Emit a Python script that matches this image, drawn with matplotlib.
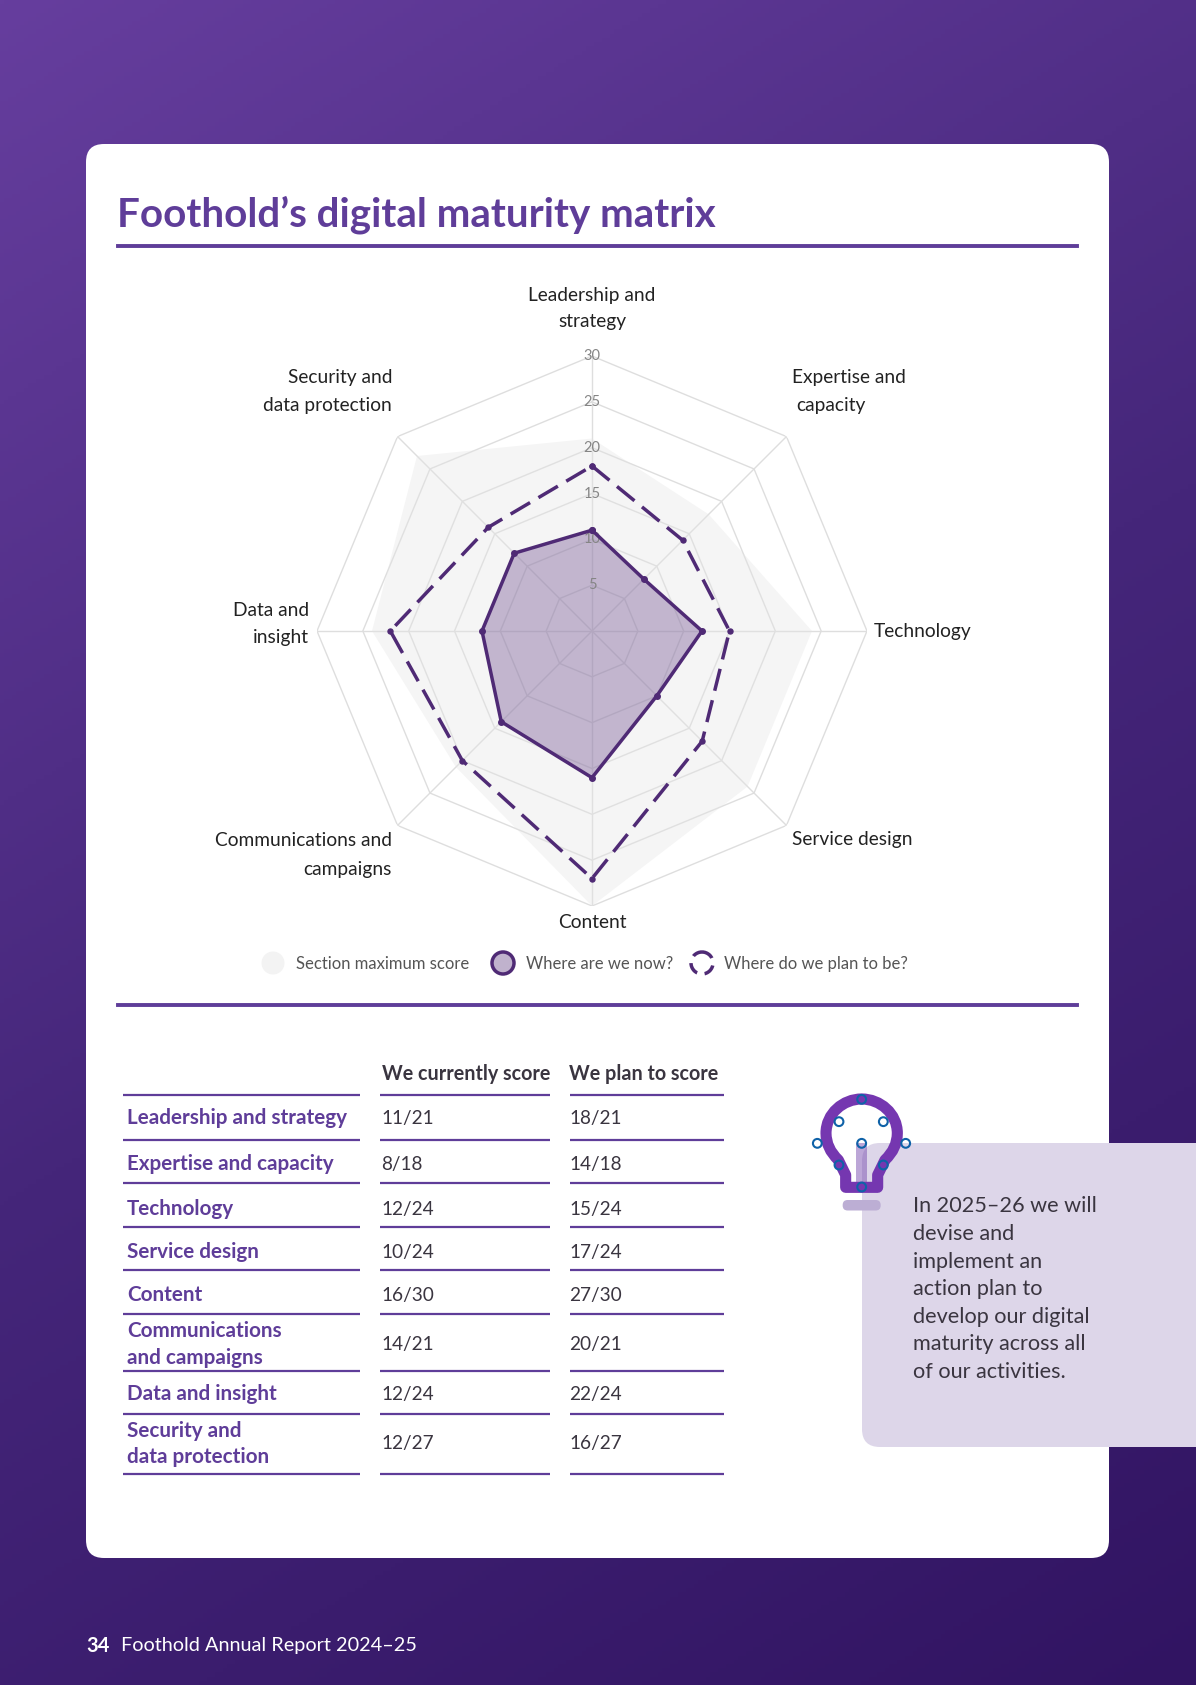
from matplotlib import pyplot as plt
from matplotlib.patches import Circle, FancyBboxPatch, PathPatch, Rectangle
from matplotlib.path import Path
import numpy as np

WIDTH, HEIGHT = 1196, 1685
PX = 0.72  # one pixel in points at dpi 100

plt.rcParams["font.family"] = ["Lato", "DejaVu Sans"]

PURPLE = "#5f3d99"
DARK = "#4f2a75"
TEXT = "#3a3540"

categories = [
    "Leadership and strategy",
    "Expertise and capacity",
    "Technology",
    "Service design",
    "Content",
    "Communications and campaigns",
    "Data and insight",
    "Security and data protection",
]
current_scores = [11, 8, 12, 10, 16, 14, 12, 12]
planned_scores = [18, 14, 15, 17, 27, 20, 22, 16]
max_scores = [21, 18, 24, 24, 30, 21, 24, 27]
radial_ticks = [5, 10, 15, 20, 25, 30]

table_labels = [
    "Leadership and strategy",
    "Expertise and capacity",
    "Technology",
    "Service design",
    "Content",
    "Communications\nand campaigns",
    "Data and insight",
    "Security and\ndata protection",
]
table_headers = ["We currently score", "We plan to score"]
table_rules = [1095, 1140, 1183, 1227, 1270, 1314, 1371, 1414, 1474]
table_rows = [1118.5, 1164.5, 1209, 1252.5, 1295, 1344.5, 1394.5, 1444]

callout_lines = [
    "In 2025–26 we will",
    "devise and",
    "implement an",
    "action plan to",
    "develop our digital",
    "maturity across all",
    "of our activities.",
]


def px_text(ax, x, y, s, size, **kwargs):
    kwargs.setdefault("va", "center")
    kwargs.setdefault("ha", "left")
    ax.text(x, y, s, fontsize=size * PX, **kwargs)


def rounded_box(ax, x0, y0, x1, y1, radius, color, zorder=1):
    ax.add_patch(
        FancyBboxPatch(
            (x0 + radius, y0 + radius),
            x1 - x0 - 2 * radius,
            y1 - y0 - 2 * radius,
            boxstyle=f"round,pad={radius},rounding_size={radius}",
            facecolor=color,
            edgecolor="none",
            zorder=zorder,
        )
    )


def plot_background(ax):
    stops = np.array([[0x66, 0x3e, 0x9e], [0x45, 0x26, 0x7a], [0x31, 0x14, 0x62]]) / 255
    xx, yy = np.meshgrid(np.linspace(0, 1, 300), np.linspace(0, 1, 400))
    t = 0.3 * xx + 0.7 * yy
    rgb = np.stack([np.interp(t, [0, 0.5, 1], stops[:, i]) for i in range(3)], axis=-1)
    ax.imshow(rgb, extent=(0, WIDTH, HEIGHT, 0), aspect="auto", zorder=0)


def plot_radar(ax):
    angles = np.linspace(0, 2 * np.pi, len(categories), endpoint=False)
    closed = np.append(angles, angles[0])

    def loop(values):
        return np.append(values, values[0])

    ax.set_theta_zero_location("N")
    ax.set_theta_direction(-1)
    ax.set_ylim(0, 30)
    ax.axis("off")

    for tick in radial_ticks:
        ax.plot(closed, [tick] * len(closed), color="#dedede", lw=1.0, zorder=1)
    for angle in angles:
        ax.plot([angle, angle], [0, 30], color="#dedede", lw=1.0, zorder=1)

    ax.fill(closed, loop(max_scores), color="#e4e4e4", alpha=0.36, lw=0, zorder=2)
    ax.fill(closed, loop(current_scores), color="#5a3580", alpha=0.33, lw=0, zorder=3)

    for tick in radial_ticks:
        ax.text(0, tick, str(tick), color="#858585", fontsize=10.5,
                ha="center", va="center", zorder=4)

    ax.plot(closed, loop(planned_scores), color=DARK, lw=2.5, zorder=5,
            dashes=(6.5, 2.8), marker="o", ms=3.6)
    ax.plot(closed, loop(current_scores), color=DARK, lw=2.5, zorder=6,
            marker="o", ms=4)


def plot_axis_labels(ax):
    color = "#222222"
    size = 19.2
    for x, y, s, ha in [
        (592, 295, "Leadership and", "center"),
        (592, 322, "strategy", "center"),
        (392, 377, "Security and", "right"),
        (392, 405, "data protection", "right"),
        (792, 377, "Expertise and", "left"),
        (796, 405, "capacity", "left"),
        (874, 632, "Technology", "left"),
        (309, 610, "Data and", "right"),
        (309, 637, "insight", "right"),
        (792, 840, "Service design", "left"),
        (392, 840, "Communications and", "right"),
        (392, 869, "campaigns", "right"),
        (592, 922, "Content", "center"),
    ]:
        px_text(ax, x, y, s, size, ha=ha, color=color, zorder=5)


def plot_legend(ax):
    y = 963
    ax.add_patch(Circle((273, y), 11.5, facecolor="#f3f3f3", edgecolor="none", zorder=3))
    ax.add_patch(Circle((503, y), 11, facecolor="#c0b2cd", edgecolor=DARK, lw=2.5, zorder=3))
    ax.add_patch(Circle((702, y), 11, facecolor="none", edgecolor=DARK, lw=2.5,
                        linestyle=(0, (3.5, 2.2)), zorder=3))
    for x, s in [
        (296, "Section maximum score"),
        (526, "Where are we now?"),
        (724, "Where do we plan to be?"),
    ]:
        px_text(ax, x, y + 1, s, 16.6, color="#555555", zorder=3)


def plot_table(ax):
    columns = [(123, 360), (380, 550), (570, 724)]
    for x0, x1 in columns:
        for y in table_rules:
            ax.plot([x0, x1], [y, y], color=PURPLE, lw=1.6, solid_capstyle="butt", zorder=3)

    px_text(ax, 382, 1074, table_headers[0], 19.8, color=TEXT, weight="bold", zorder=4)
    px_text(ax, 569, 1074, table_headers[1], 19.8, color=TEXT, weight="bold", zorder=4)

    for i, label in enumerate(table_labels):
        y = table_rows[i]
        px_text(ax, 127, y, label, 20.6, color=PURPLE, weight="bold", linespacing=1.43, zorder=4)
        px_text(ax, 381, y, f"{current_scores[i]}/{max_scores[i]}", 19, color=TEXT, zorder=4)
        px_text(ax, 569, y, f"{planned_scores[i]}/{max_scores[i]}", 19, color=TEXT, zorder=4)


def plot_callout(ax):
    ax.add_patch(FancyBboxPatch((880, 1161), 400, 268,
                                boxstyle="round,pad=18,rounding_size=18",
                                facecolor="#ddd6e9", edgecolor="none", zorder=2))
    for i, line in enumerate(callout_lines):
        px_text(ax, 913, 1206.5 + i * 27.6, line, 21.7, color=TEXT, zorder=4)


def plot_bulb(ax):
    def pos(x, y):
        return 780 + x / 3, 1070 + y / 3

    verts = [
        (197, 352), (197, 315), (175, 270),
        (138, 235), (138, 190),
        (138, 130), (190, 87), (245, 87),
        (300, 87), (352, 130), (352, 190),
        (352, 235), (315, 270), (293, 315),
        (293, 352), (197, 352),
    ]
    codes = [Path.MOVETO, Path.LINETO, Path.LINETO,
             Path.CURVE3, Path.CURVE3,
             Path.CURVE4, Path.CURVE4, Path.CURVE4,
             Path.CURVE4, Path.CURVE4, Path.CURVE4,
             Path.CURVE3, Path.CURVE3, Path.LINETO,
             Path.LINETO, Path.CLOSEPOLY]
    x, y = pos(229, 220)
    ax.add_patch(Rectangle((x, y), 32 / 3, 125 / 3, facecolor="#7b4fb0", alpha=0.5,
                           edgecolor="none", zorder=5))
    ax.add_patch(PathPatch(Path([pos(*v) for v in verts], codes), facecolor="none",
                           edgecolor="#7537b0", lw=8, joinstyle="round", zorder=6))
    x, y = pos(188, 390)
    rounded_box(ax, x, y, x + 38, y + 10.5, 5, "#bcaed4", zorder=5)
    for point in [(245, 88), (177, 155), (310, 155), (112, 220), (377, 220),
                  (245, 220), (177, 285), (310, 285), (245, 351)]:
        ax.add_patch(Circle(pos(*point), 4.4, facecolor="none", edgecolor="#0f62a8",
                            lw=1.5, zorder=7))


def main():
    fig = plt.figure(figsize=(WIDTH / 100, HEIGHT / 100), dpi=100)

    page = fig.add_axes([0, 0, 1, 1])
    page.set_xlim(0, WIDTH)
    page.set_ylim(HEIGHT, 0)
    page.axis("off")

    plot_background(page)
    page.set_xlim(0, WIDTH)
    page.set_ylim(HEIGHT, 0)
    rounded_box(page, 86, 144, 1109, 1558, 18, "white")

    px_text(page, 117, 215, "Foothold’s digital maturity matrix", 40.4,
            color=PURPLE, weight="bold", zorder=4)
    for y in [246, 1005]:
        page.plot([118, 1077], [y, y], color=PURPLE, lw=2.8, zorder=3)

    plot_axis_labels(page)
    plot_legend(page)
    plot_table(page)
    plot_callout(page)
    plot_bulb(page)

    px_text(page, 86, 1646, "34", 20, color="white", weight="bold", zorder=4)
    px_text(page, 121, 1646, "Foothold Annual Report 2024–25", 19.9, color="white", zorder=4)

    cx, cy, radius = 592, 631, 275
    radar = fig.add_axes(
        [(cx - radius) / WIDTH, 1 - (cy + radius) / HEIGHT,
         2 * radius / WIDTH, 2 * radius / HEIGHT],
        projection="polar",
    )
    radar.patch.set_alpha(0)
    plot_radar(radar)

    fig.savefig("out.png", dpi=100)


if __name__ == "__main__":
    main()
